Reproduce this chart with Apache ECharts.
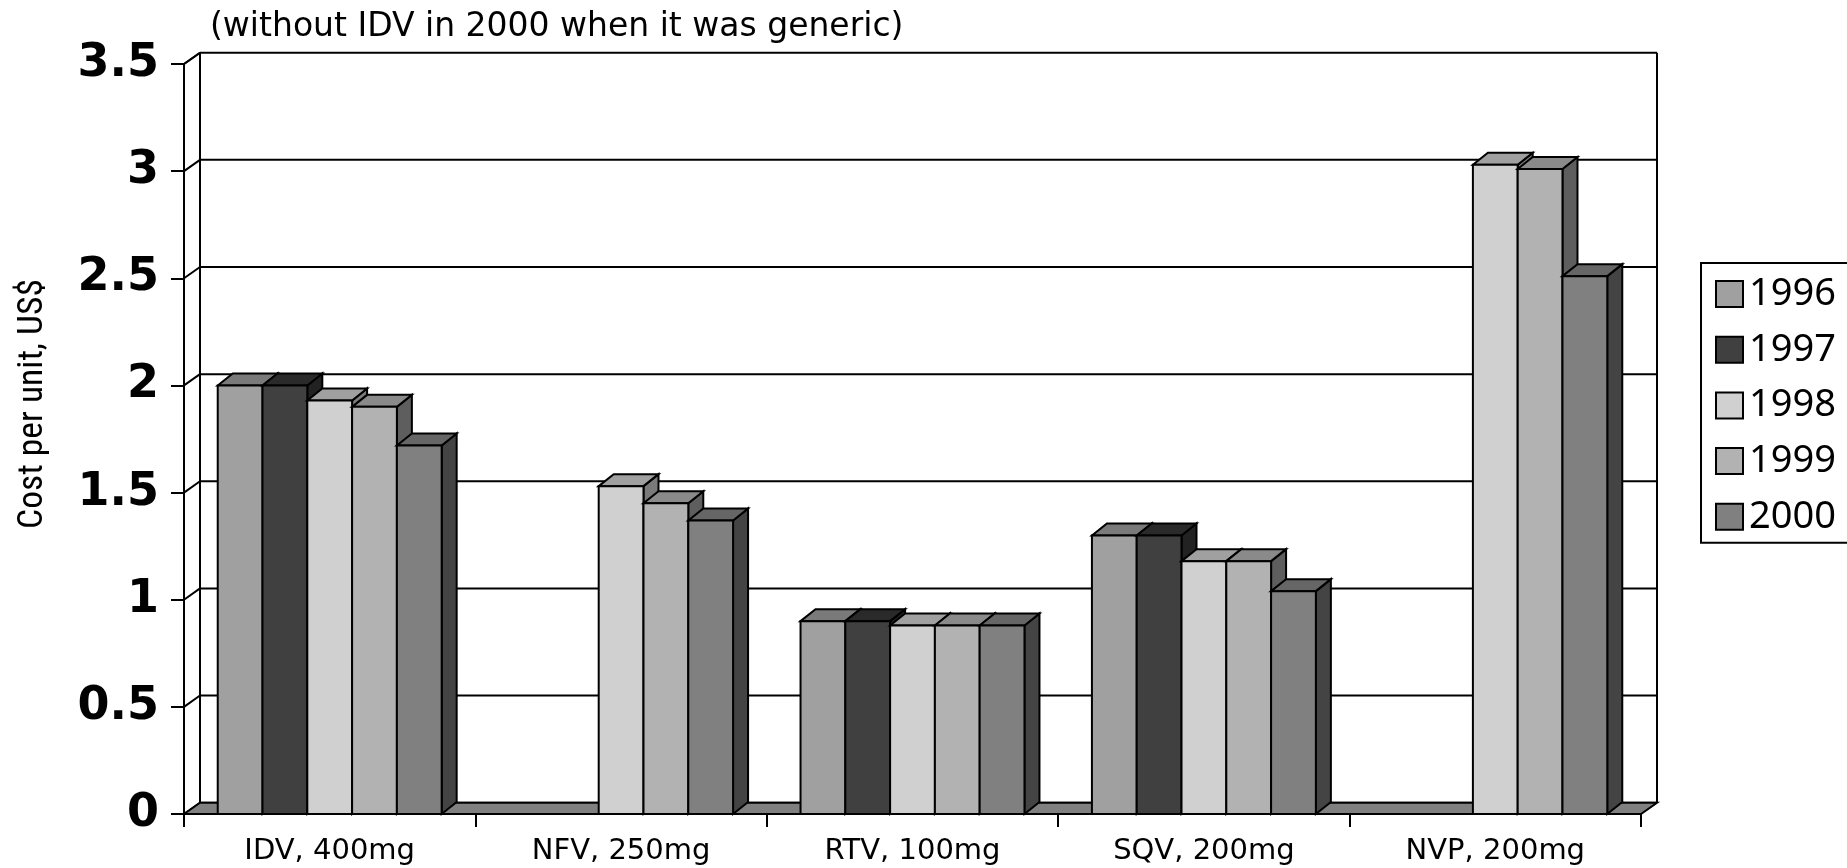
<!DOCTYPE html>
<html>
<head>
<meta charset="utf-8">
<script src="https://cdn.jsdelivr.net/npm/echarts@6/dist/echarts.min.js"></script>
<style>
  html, body { margin: 0; padding: 0; background: #ffffff; }
  #chart { width: 1847px; height: 868px; }
</style>
</head>
<body>
<div id="chart"></div>
<script>
// Drug categories along the x axis
const categories = ['IDV, 400mg', 'NFV, 250mg', 'RTV, 100mg', 'SQV, 200mg', 'NVP, 200mg'];
// Years shown as series
const years = ['1996', '1997', '1998', '1999', '2000'];
// Cost per unit (US$) for each drug, by year (null = no price)
const cost1996 = [2.00, null, 0.90, 1.30, null];
const cost1997 = [2.00, null, 0.90, 1.30, null];
const cost1998 = [1.93, 1.53, 0.88, 1.18, 3.03];
const cost1999 = [1.90, 1.45, 0.88, 1.18, 3.01];
const cost2000 = [1.72, 1.37, 0.88, 1.04, 2.51];
// Value-axis ticks
const yTicks = [0, 0.5, 1, 1.5, 2, 2.5, 3, 3.5];

const yearValues = [cost1996, cost1997, cost1998, cost1999, cost2000];

// Bar face shades: front, top, side
const frontColors = ['#a0a0a0', '#404040', '#d0d0d0', '#b2b2b2', '#808080'];
const topColors   = ['#7a7a7a', '#2a2a2a', '#a0a0a0', '#8a8a8a', '#666666'];
const sideColors  = ['#585858', '#222222', '#7a7a7a', '#5e5e5e', '#444444'];

// Depth of the chart box and of each bar, in pixels
const WALL_DX = 16, WALL_DY = -11.3;
const BAR_DX = 15, BAR_DY = -12;
const BAR_FRACTION = 0.1537; // bar width relative to one category band
const LINE = '#000000';
const LW = 2;

// Back wall, grid lines and the small connectors to the front value axis
function renderWalls(params, api) {
  const cs = params.coordSys;
  const v = api.value(1);
  const y = api.coord([0, v])[1];
  const left = cs.x, right = cs.x + cs.width;
  const children = [
    { type: 'line', shape: { x1: left, y1: y, x2: left + WALL_DX, y2: y + WALL_DY },
      style: { stroke: LINE, lineWidth: LW } },
    { type: 'line', shape: { x1: left + WALL_DX, y1: y + WALL_DY, x2: right + WALL_DX, y2: y + WALL_DY },
      style: { stroke: LINE, lineWidth: LW } }
  ];
  if (params.dataIndex === 0) {
    const top = cs.y, bottom = cs.y + cs.height;
    children.push(
      { type: 'line', shape: { x1: left + WALL_DX, y1: top + WALL_DY, x2: left + WALL_DX, y2: bottom + WALL_DY },
        style: { stroke: LINE, lineWidth: LW } },
      { type: 'line', shape: { x1: right + WALL_DX, y1: top + WALL_DY, x2: right + WALL_DX, y2: bottom + WALL_DY },
        style: { stroke: LINE, lineWidth: LW } },
      { type: 'line', shape: { x1: left, y1: top, x2: left + WALL_DX, y2: top + WALL_DY },
        style: { stroke: LINE, lineWidth: LW } }
    );
  }
  return { type: 'group', children: children };
}

// Grey floor slab under the bars
function renderFloor(params, api) {
  const cs = params.coordSys;
  const y = api.coord([0, 0])[1];
  const left = cs.x, right = cs.x + cs.width;
  return {
    type: 'polygon',
    shape: { points: [[left, y], [left + WALL_DX, y + WALL_DY], [right + WALL_DX, y + WALL_DY], [right, y]] },
    style: { fill: '#808080', stroke: LINE, lineWidth: LW, lineJoin: 'miter' }
  };
}

// One 3D column: side, top and front faces
function makeBarRenderer(seriesIdx) {
  return function (params, api) {
    const cat = api.value(0);
    const v = api.value(1);
    if (v == null || isNaN(v)) return null;
    const topPt = api.coord([cat, v]);
    const basePt = api.coord([cat, 0]);
    const band = api.size([1, 0])[0];
    const bw = band * BAR_FRACTION;
    const x0 = topPt[0] - 2.5 * bw + seriesIdx * bw;
    const x1 = x0 + bw;
    const yt = topPt[1], yb = basePt[1];
    const stroke = { stroke: LINE, lineWidth: LW, lineJoin: 'miter' };
    return {
      type: 'group',
      children: [
        { type: 'polygon',
          shape: { points: [[x1, yt], [x1 + BAR_DX, yt + BAR_DY], [x1 + BAR_DX, yb + BAR_DY], [x1, yb]] },
          style: Object.assign({ fill: sideColors[seriesIdx] }, stroke) },
        { type: 'polygon',
          shape: { points: [[x0, yt], [x0 + BAR_DX, yt + BAR_DY], [x1 + BAR_DX, yt + BAR_DY], [x1, yt]] },
          style: Object.assign({ fill: topColors[seriesIdx] }, stroke) },
        { type: 'rect',
          shape: { x: x0, y: yt, width: bw, height: yb - yt },
          style: Object.assign({ fill: frontColors[seriesIdx] }, stroke) }
      ]
    };
  };
}

const barSeries = years.map(function (yr, si) {
  const data = [];
  yearValues[si].forEach(function (val, ci) {
    if (val != null) data.push([ci, val]);
  });
  return {
    name: yr,
    type: 'custom',
    renderItem: makeBarRenderer(si),
    itemStyle: { color: frontColors[si] },
    encode: { x: 0, y: 1 },
    data: data,
    z: 3 + si
  };
});

const chart = echarts.init(document.getElementById('chart'), null, { renderer: 'canvas' });

chart.setOption({
  animation: false,
  backgroundColor: '#ffffff',
  title: {
    text: '(without IDV in 2000 when it was generic)',
    left: 210,
    top: 11,
    padding: 0,
    textStyle: { fontFamily: 'DejaVu Sans', fontSize: 33, fontWeight: 'normal', color: '#000' }
  },
  legend: {
    data: years,
    orient: 'vertical',
    left: 1701,
    top: 263,
    padding: [11, 40, 6, 14],
    itemGap: 15.7,
    itemWidth: 27,
    itemHeight: 26,
    icon: 'rect',
    borderColor: '#000',
    borderWidth: 2,
    borderRadius: 0,
    itemStyle: { borderColor: '#000', borderWidth: 2 },
    textStyle: { fontFamily: 'Noto Sans', fontSize: 38, lineHeight: 40, color: '#000', padding: [0, 0, 0, 1] }
  },
  grid: { left: 184, right: 206, top: 64, bottom: 54, containLabel: false },
  xAxis: {
    type: 'category',
    data: categories,
    boundaryGap: true,
    axisLine: { show: true, lineStyle: { color: '#000', width: LW } },
    axisTick: { show: true, length: 13, lineStyle: { color: '#000', width: LW } },
    axisLabel: { margin: 23, color: '#000', fontFamily: 'DejaVu Sans', fontSize: 29 },
    splitLine: { show: false }
  },
  yAxis: {
    type: 'value',
    min: 0,
    max: 3.5,
    interval: 0.5,
    name: 'Cost per unit, US$',
    nameLocation: 'middle',
    nameGap: 133,
    nameRotate: 90,
    nameTextStyle: {
      fontFamily: '"Liberation Sans Narrow", "Roboto Condensed", Roboto',
      fontSize: 35.5, color: '#000', padding: [0, 0, 0, 70]
    },
    axisLine: { show: true, lineStyle: { color: '#000', width: LW } },
    axisTick: { show: true, length: 13, lineStyle: { color: '#000', width: LW } },
    axisLabel: {
      margin: 25, color: '#000', fontFamily: 'DejaVu Sans', fontWeight: 'bold', fontSize: 46,
      padding: [7, 0, 0, 0],
      formatter: function (v) { return String(v); }
    },
    splitLine: { show: false }
  },
  series: [
    {
      name: 'walls',
      type: 'custom',
      renderItem: renderWalls,
      encode: { x: 0, y: 1 },
      data: yTicks.map(function (t) { return [0, t]; }),
      silent: true,
      z: 1
    },
    {
      name: 'floor',
      type: 'custom',
      renderItem: renderFloor,
      encode: { x: 0, y: 1 },
      data: [[0, 0]],
      silent: true,
      z: 2
    }
  ].concat(barSeries)
});
</script>
</body>
</html>
